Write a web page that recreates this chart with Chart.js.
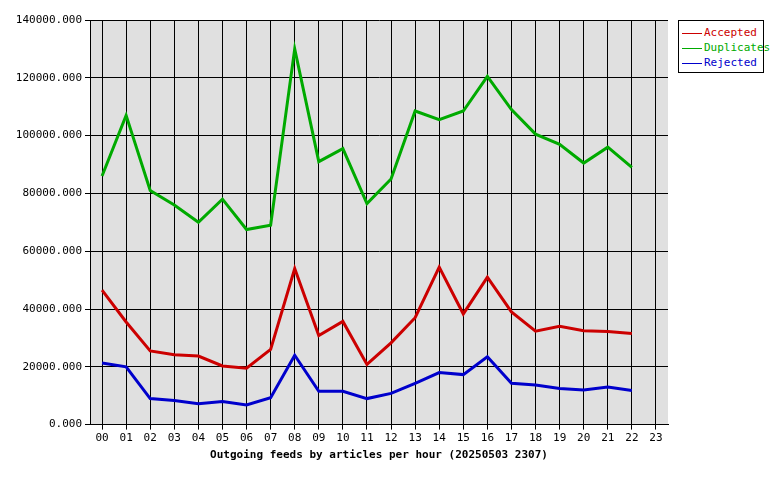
<!DOCTYPE html>
<html>
<head>
<meta charset="UTF-8">
<script src="https://cdn.jsdelivr.net/npm/chart.js"></script>
<style>
  body { margin: 0; background: #fff; font-family: "DejaVu Sans Mono", monospace; }
  #wrap { position: relative; width: 780px; height: 480px; }
  #box { position: absolute; left: 0; top: 0; width: 672px; height: 480px; }
  #legend { position: absolute; left: 678px; top: 20px; width: 86px; height: 53px; border: 1px solid #000; font-size: 11px; padding-top: 4px; box-sizing: border-box; }
  #legend div { height: 15px; line-height: 15px; white-space: nowrap; }
  #legend span.ln { display: inline-block; width: 20px; height: 1px; vertical-align: middle; margin: 0 2px 0 3px; }
</style>
</head>
<body>
<div id="wrap">
  <div id="box"><canvas id="c"></canvas></div>
  <div id="legend">
    <div style="color:#cc0000"><span class="ln" style="background:#cc0000"></span>Accepted</div>
    <div style="color:#00aa00"><span class="ln" style="background:#00aa00"></span>Duplicates</div>
    <div style="color:#0000cc"><span class="ln" style="background:#0000cc"></span>Rejected</div>
  </div>
</div>
<script>
var hours = ["00","01","02","03","04","05","06","07","08","09","10","11","12","13","14","15","16","17","18","19","20","21","22","23"];
var accepted = [46500,35500,25500,24200,23700,20300,19500,26000,54000,30800,35700,20800,28300,37000,54500,38300,51000,39000,32300,34000,32500,32200,31500];
var duplicates = [86000,107000,81000,76000,70000,78000,67500,69000,130000,91000,95500,76500,85000,108500,105500,108500,120500,109000,100500,97000,90500,96000,89000];
var rejected = [21300,20000,9000,8300,7200,8000,6800,9300,24000,11500,11500,9000,10800,14300,18000,17300,23500,14300,13700,12500,12000,13000,11800];
var title = "Outgoing feeds by articles per hour (20250503 2307)";

var bg = {
  id: "bg",
  beforeDraw: function(chart) {
    var a = chart.chartArea, ctx = chart.ctx;
    ctx.save();
    ctx.fillStyle = "#e0e0e0";
    ctx.fillRect(a.left, a.top, a.right - a.left, a.bottom - a.top);
    ctx.restore();
  }
};

function ds(label, data, color) {
  return { label: label, data: data, borderColor: color, borderWidth: 3, pointRadius: 0, tension: 0, fill: false };
}

new Chart(document.getElementById("c"), {
  type: "line",
  data: { labels: hours, datasets: [ds("Accepted", accepted, "#cc0000"), ds("Duplicates", duplicates, "#00aa00"), ds("Rejected", rejected, "#0000cc")] },
  plugins: [bg],
  options: {
    responsive: true, maintainAspectRatio: false, animation: false,
    layout: { padding: { top: 20, right: 4, bottom: 14, left: 0 } },
    plugins: { legend: { display: false }, tooltip: { enabled: false } },
    scales: {
      x: {
        offset: true,
        grid: { color: "#000", lineWidth: 1, drawTicks: true, tickLength: 5, tickColor: "#000" },
        border: { color: "#000" },
        ticks: { color: "#000", font: { family: "DejaVu Sans Mono", size: 11 }, maxRotation: 0, autoSkip: false, padding: 2 },
        title: { display: true, text: title, color: "#000", font: { family: "DejaVu Sans Mono", size: 11, weight: "bold" }, padding: { top: 2 } }
      },
      y: {
        min: 0, max: 140000,
        afterFit: function(s) { s.width = 90; },
        grid: { color: "#000", lineWidth: 1, tickLength: 5, tickColor: "#000" },
        border: { color: "#000" },
        ticks: { stepSize: 20000, color: "#000", font: { family: "DejaVu Sans Mono", size: 11 }, padding: 3,
          callback: function(v) { return v.toFixed(3); } }
      }
    }
  }
});
</script>
</body>
</html>
